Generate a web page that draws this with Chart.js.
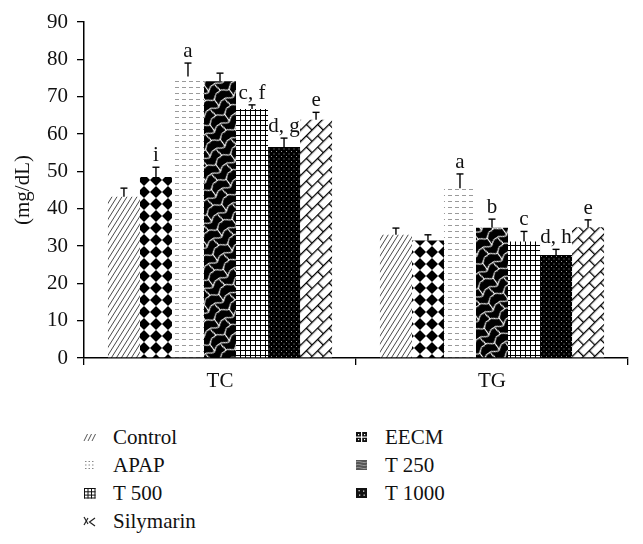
<!DOCTYPE html>
<html>
<head>
<meta charset="utf-8">
<script src="https://cdn.jsdelivr.net/npm/chart.js@4.4.1/dist/chart.umd.min.js"></script>
<style>
  html, body { margin: 0; padding: 0; background: #fff; }
  body { width: 643px; height: 544px; position: relative; overflow: hidden; }
  #c { position: absolute; left: 0; top: 0; }
  .leg { position: absolute; display: flex; align-items: center; height: 28px; font-family: 'Liberation Serif', 'DejaVu Serif', serif; font-size: 21px; color: #111; white-space: nowrap; }
  .leg canvas { width: 13px; height: 12px; margin-right: 17px; }
</style>
</head>
<body>
<canvas id="c" width="643" height="400"></canvas>
<div id="legend"></div>
<script>
// ---------- data ----------
const categories = ['TC', 'TG'];
const seriesNames = ['Control', 'EECM', 'APAP', 'T 250', 'T 500', 'T 1000', 'Silymarin'];
const controlVals   = [43.2, 33.0];
const eecmVals      = [48.5, 31.5];
const apapVals      = [75.4, 45.5];
const t250Vals      = [74.1, 34.9];
const t500Vals      = [66.7, 31.2];
const t1000Vals     = [56.5, 27.6];
const silymarinVals = [63.8, 35.0];
const controlErr    = [2.3, 1.8];
const eecmErr       = [2.6, 1.5];
const apapErr       = [3.6, 3.8];
const t250Err       = [2.2, 2.3];
const t500Err       = [1.1, 2.7];
const t1000Err      = [2.4, 1.5];
const silymarinErr  = [2.0, 2.0];
const controlSig    = ['', ''];
const eecmSig       = ['i', ''];
const apapSig       = ['a', 'a'];
const t250Sig       = ['', 'b'];
const t500Sig       = ['c, f', 'c'];
const t1000Sig      = ['d, g', 'd, h'];
const silymarinSig  = ['e', 'e'];
const yTicks = [0, 10, 20, 30, 40, 50, 60, 70, 80, 90];
const yTitle = '(mg/dL)';

const values = [controlVals, eecmVals, apapVals, t250Vals, t500Vals, t1000Vals, silymarinVals];
const errors = [controlErr, eecmErr, apapErr, t250Err, t500Err, t1000Err, silymarinErr];
const sigs = [controlSig, eecmSig, apapSig, t250Sig, t500Sig, t1000Sig, silymarinSig];
const kinds = ['diag', 'diamond', 'dash', 'wave', 'grid', 'dots', 'brick'];

// ---------- patterns ----------
function tile(w, h, draw) {
  const c = document.createElement('canvas');
  c.width = w; c.height = h;
  const g = c.getContext('2d');
  draw(g, w, h);
  return c;
}
function makePattern(ctx, kind) {
  let t, p;
  if (kind === 'diag') {
    t = tile(5, 8, (g, w, h) => {
      g.fillStyle = '#fff'; g.fillRect(0, 0, w, h);
      g.strokeStyle = '#333'; g.lineWidth = 0.9;
      for (const o of [-5, 0, 5]) { g.beginPath(); g.moveTo(o, h); g.lineTo(o + w, 0); g.stroke(); }
    });
    return ctx.createPattern(t, 'repeat');
  }
  if (kind === 'diamond') {
    t = tile(12, 12, (g, w, h) => {
      g.fillStyle = '#000'; g.fillRect(0, 0, w, h);
      g.fillStyle = '#fff';
      g.beginPath(); g.moveTo(6, 0); g.lineTo(12, 6); g.lineTo(6, 12); g.lineTo(0, 6); g.closePath(); g.fill();
    });
    return ctx.createPattern(t, 'repeat');
  }
  if (kind === 'dash') {
    t = tile(7, 6, (g, w, h) => {
      g.fillStyle = '#fff'; g.fillRect(0, 0, w, h);
      g.fillStyle = '#9a9a9a'; g.fillRect(0, 3, 4, 1);
    });
    return ctx.createPattern(t, 'repeat');
  }
  if (kind === 'wave') {
    t = tile(18, 18, (g, w, h) => {
      g.fillStyle = '#000'; g.fillRect(0, 0, w, h);
      g.strokeStyle = '#fff'; g.lineWidth = 1.1;
      g.beginPath(); g.moveTo(0, 3); g.bezierCurveTo(5, -1, 7, 9, 11, 6); g.bezierCurveTo(14, 4, 15, 1, 18, 3); g.stroke();
      g.beginPath(); g.moveTo(0, 12); g.bezierCurveTo(4, 9, 6, 17, 10, 15); g.bezierCurveTo(13, 13, 15, 10, 18, 12); g.stroke();
      g.beginPath(); g.moveTo(11, 6); g.bezierCurveTo(9, 8, 12, 10, 10, 15); g.stroke();
      g.beginPath(); g.moveTo(2, 12.5); g.bezierCurveTo(0, 15, 4, 18, 2, 21); g.stroke();
      g.beginPath(); g.moveTo(2, -5.5); g.bezierCurveTo(0, -3, 4, 0, 2, 3); g.stroke();
    });
    p = ctx.createPattern(t, 'repeat');
    p.setTransform(new DOMMatrix().rotateSelf(-35));
    return p;
  }
  if (kind === 'grid') {
    t = tile(5, 5, (g, w, h) => {
      g.fillStyle = '#fff'; g.fillRect(0, 0, w, h);
      g.fillStyle = '#000'; g.fillRect(0, 0, w, 1); g.fillRect(0, 0, 1, h);
    });
    return ctx.createPattern(t, 'repeat');
  }
  if (kind === 'dots') {
    t = tile(5, 5, (g, w, h) => {
      g.fillStyle = '#000'; g.fillRect(0, 0, w, h);
      g.fillStyle = '#9a9a9a'; g.fillRect(1, 1, 1, 1); g.fillRect(3.5, 3.5, 1, 1);
    });
    return ctx.createPattern(t, 'repeat');
  }
  if (kind === 'brick') {
    t = tile(16, 16, (g, w, h) => {
      g.fillStyle = '#fff'; g.fillRect(0, 0, w, h);
      g.fillStyle = '#000';
      g.fillRect(0, 0, w, 1.3); g.fillRect(0, 8, w, 1.3);
      g.fillRect(0, 0, 1.3, 8); g.fillRect(8, 8, 1.3, 8);
    });
    p = ctx.createPattern(t, 'repeat');
    p.setTransform(new DOMMatrix().rotateSelf(-45));
    return p;
  }
}

// small legend swatches
function drawIcon(g, kind) {
  const W = 13, H = 12;
  g.clearRect(0, 0, W, H);
  g.lineWidth = 1;
  if (kind === 'diag') {
    g.strokeStyle = '#555';
    for (const x of [1, 5, 9]) { g.beginPath(); g.moveTo(x, 10); g.lineTo(x + 3.5, 3); g.stroke(); }
  } else if (kind === 'dash') {
    g.fillStyle = '#888';
    for (const y of [2, 5.5, 9]) for (const x of [2, 5.5, 9]) g.fillRect(x, y, 1.5, 1);
  } else if (kind === 'grid') {
    g.strokeStyle = '#111';
    for (const v of [1.5, 5, 8.5, 12]) {
      g.beginPath(); g.moveTo(v, 1); g.lineTo(v, 11.5); g.stroke();
    }
    for (const v of [1.5, 4.8, 8.1, 11]) {
      g.beginPath(); g.moveTo(1, v); g.lineTo(12.5, v); g.stroke();
    }
  } else if (kind === 'brick') {
    g.strokeStyle = '#222'; g.lineWidth = 1.2;
    g.beginPath(); g.moveTo(1, 2); g.lineTo(5, 9); g.stroke();
    g.beginPath(); g.moveTo(5, 3); g.lineTo(1, 10); g.stroke();
    g.beginPath(); g.moveTo(12, 3); g.lineTo(6.5, 7); g.lineTo(12, 11); g.stroke();
  } else if (kind === 'diamond') {
    g.fillStyle = '#111'; g.fillRect(1, 1, 11, 10);
    g.fillStyle = '#fff';
    g.fillRect(6, 1, 1.2, 10); g.fillRect(1, 5.5, 11, 1.2);
    g.fillRect(3, 3, 1.2, 1.2); g.fillRect(9, 3, 1.2, 1.2); g.fillRect(3, 8, 1.2, 1.2); g.fillRect(9, 8, 1.2, 1.2);
  } else if (kind === 'wave') {
    g.fillStyle = '#555'; g.fillRect(1, 1, 11, 10);
    g.strokeStyle = '#aaa'; g.lineWidth = 0.8;
    for (const y of [3, 6, 9]) { g.beginPath(); g.moveTo(1, y); g.bezierCurveTo(4, y - 2, 8, y + 2, 12, y); g.stroke(); }
  } else if (kind === 'dots') {
    g.fillStyle = '#111'; g.fillRect(1, 1, 11, 10);
    g.fillStyle = '#ddd';
    g.fillRect(3.5, 3, 1.3, 1.3); g.fillRect(8, 3.5, 1.3, 1.3); g.fillRect(4, 7.5, 1.3, 1.3); g.fillRect(8.5, 7.5, 1.3, 1.3);
  }
}

const canvas = document.getElementById('c');
const ctx = canvas.getContext('2d');
const FONT = { family: "'Liberation Serif', 'Times New Roman', serif", size: 21 };

const datasets = seriesNames.map((name, i) => ({
  label: name,
  data: values[i],
  backgroundColor: makePattern(ctx, kinds[i]),
  borderWidth: 0,
  errs: errors[i],
  sigs: sigs[i]
}));

const errorPlugin = {
  id: 'errorBars',
  afterDatasetsDraw(chart) {
    const c = chart.ctx;
    const ys = chart.scales.y;
    c.save();
    chart.data.datasets.forEach((ds, di) => {
      const meta = chart.getDatasetMeta(di);
      meta.data.forEach((bar, j) => {
        const v = ds.data[j], e = ds.errs[j];
        const yTop = ys.getPixelForValue(v + e);
        const x = bar.x;
        c.strokeStyle = '#000'; c.lineWidth = 1.4;
        c.beginPath(); c.moveTo(x, bar.y); c.lineTo(x, yTop); c.stroke();
        c.beginPath(); c.moveTo(x - 3.5, yTop); c.lineTo(x + 3.5, yTop); c.stroke();
        const s = ds.sigs[j];
        if (s) {
          c.fillStyle = '#111';
          c.font = `${FONT.size}px ${FONT.family}`;
          c.textAlign = 'center'; c.textBaseline = 'alphabetic';
          c.fillText(s, x, yTop - 6);
        }
      });
    });
    c.restore();
  }
};

new Chart(canvas, {
  type: 'bar',
  data: { labels: categories, datasets },
  options: {
    responsive: false,
    animation: false,
    events: [],
    layout: { padding: { left: 0, right: 15, top: 22, bottom: 0 } },
    datasets: { bar: { barPercentage: 1.0, categoryPercentage: 0.824 } },
    plugins: { legend: { display: false }, tooltip: { enabled: false } },
    scales: {
      x: {
        grid: { display: true, drawOnChartArea: false, drawTicks: true, tickLength: 7, color: '#000', lineWidth: 1.3, offset: true },
        border: { display: true, color: '#000', width: 1.5 },
        ticks: { font: FONT, color: '#111', padding: 4 },
        afterFit: s => { s.height = 42; }
      },
      y: {
        min: 0, max: 90,
        afterBuildTicks: s => { s.ticks = yTicks.map(v => ({ value: v })); },
        grid: { display: true, drawOnChartArea: false, drawTicks: true, tickLength: 7, color: '#000', lineWidth: 1.3 },
        border: { display: true, color: '#000', width: 1.5 },
        ticks: { font: FONT, color: '#111', padding: 9 },
        title: { display: true, text: yTitle, font: FONT, color: '#111', padding: { top: 11, bottom: 0 } },
        afterFit: s => { s.width = 84; }
      }
    }
  },
  plugins: [errorPlugin]
});

// ---------- legend (HTML, two columns, row-major) ----------
const legend = document.getElementById('legend');
const colX = [83, 355];
seriesNames.forEach((name, i) => {
  const row = Math.floor(i / 2), col = i % 2;
  const d = document.createElement('div');
  d.className = 'leg';
  d.style.left = colX[col] + 'px';
  d.style.top = (423 + row * 28) + 'px';
  const ic = document.createElement('canvas');
  ic.width = 13; ic.height = 12;
  drawIcon(ic.getContext('2d'), kinds[i]);
  d.appendChild(ic);
  const sp = document.createElement('span');
  sp.textContent = name;
  d.appendChild(sp);
  legend.appendChild(d);
});
</script>
</body>
</html>
